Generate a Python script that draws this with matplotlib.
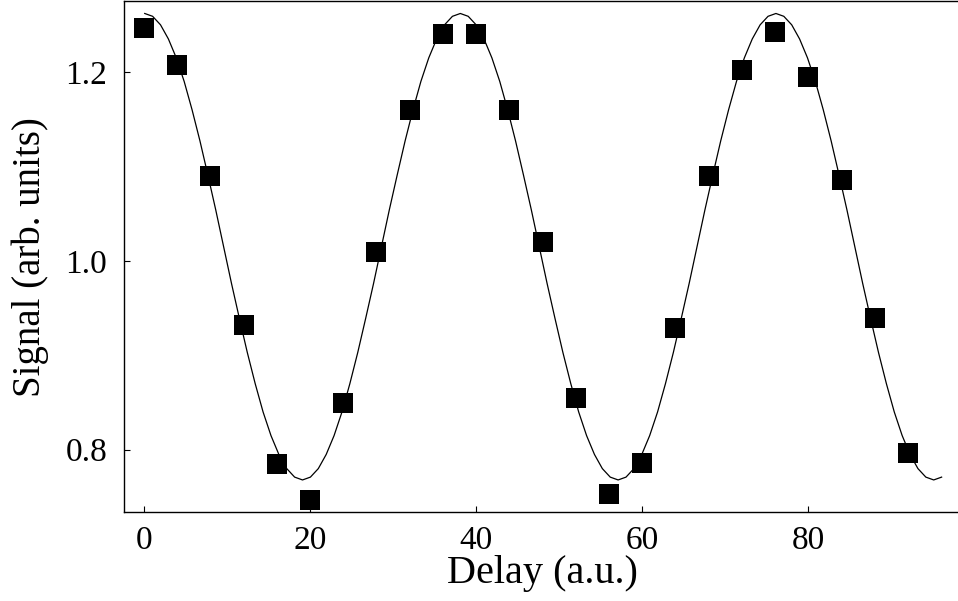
import numpy as np
import matplotlib.pyplot as plt

plt.rcParams['font.family'] = ['Liberation Serif', 'DejaVu Serif']
plt.rcParams['mathtext.fontset'] = 'stix'

# measured points
delay = [0, 4, 8, 12, 16, 20, 24, 28, 32, 36, 40, 44,
         48, 52, 56, 60, 64, 68, 72, 76, 80, 84, 88, 92]
signal = [1.247, 1.207, 1.090, 0.932, 0.785, 0.747, 0.850, 1.009,
          1.160, 1.240, 1.240, 1.160, 1.020, 0.855, 0.753, 0.786,
          0.929, 1.090, 1.202, 1.242, 1.195, 1.086, 0.939, 0.797]

# fitted curve on a grid of 0.95 units
fit_y = [1.262, 1.259, 1.250, 1.235, 1.215, 1.190, 1.160, 1.127, 1.091, 1.054,
         1.015, 0.976, 0.939, 0.903, 0.870, 0.840, 0.815, 0.795, 0.780, 0.771,
         0.768, 0.771, 0.780, 0.795, 0.815, 0.840, 0.870, 0.903, 0.939, 0.976,
         1.015, 1.054, 1.091, 1.127, 1.160, 1.190, 1.215, 1.235, 1.250, 1.259,
         1.262, 1.259, 1.250, 1.235, 1.215, 1.190, 1.160, 1.127, 1.091, 1.054,
         1.015, 0.976, 0.939, 0.903, 0.870, 0.840, 0.815, 0.795, 0.780, 0.771,
         0.768, 0.771, 0.780, 0.795, 0.815, 0.840, 0.870, 0.903, 0.939, 0.976,
         1.015, 1.054, 1.091, 1.127, 1.160, 1.190, 1.215, 1.235, 1.250, 1.259,
         1.262, 1.259, 1.250, 1.235, 1.215, 1.190, 1.160, 1.127, 1.091, 1.054,
         1.015, 0.976, 0.939, 0.903, 0.870, 0.840, 0.815, 0.795, 0.780, 0.771,
         0.768, 0.771]
fit_x = np.linspace(0.1, 96.05, len(fit_y))

xticks = [0, 20, 40, 60, 80]
yticks = [0.8, 1.0, 1.2]

fig = plt.figure(figsize=(9.58, 6.01), dpi=100)
ax = fig.add_axes([0.1294, 0.148, 0.873, 0.850])

ax.plot(fit_x, fit_y, color='black', lw=0.9)
ax.plot(delay, signal, 's', color='black', ms=15, mew=0)

ax.set_xlim(-2.4, 98.3)
ax.set_ylim(0.734, 1.275)
ax.set_xticks(xticks)
ax.set_yticks(yticks)
ax.set_yticklabels(['0.8', '1.0', '1.2'])

ax.tick_params(direction='in', length=4, width=0.8, labelsize=24,
               top=False, right=False)
ax.tick_params(axis='x', pad=10)
ax.tick_params(axis='y', pad=12)
for s in ax.spines.values():
    s.set_linewidth(1.0)
ax.spines['right'].set_visible(False)

ax.set_xlabel('Delay (a.u.)', fontsize=29, labelpad=-1)
ax.set_ylabel('Signal (arb. units)', fontsize=28, labelpad=12)

fig.savefig('out.png', dpi=100)
